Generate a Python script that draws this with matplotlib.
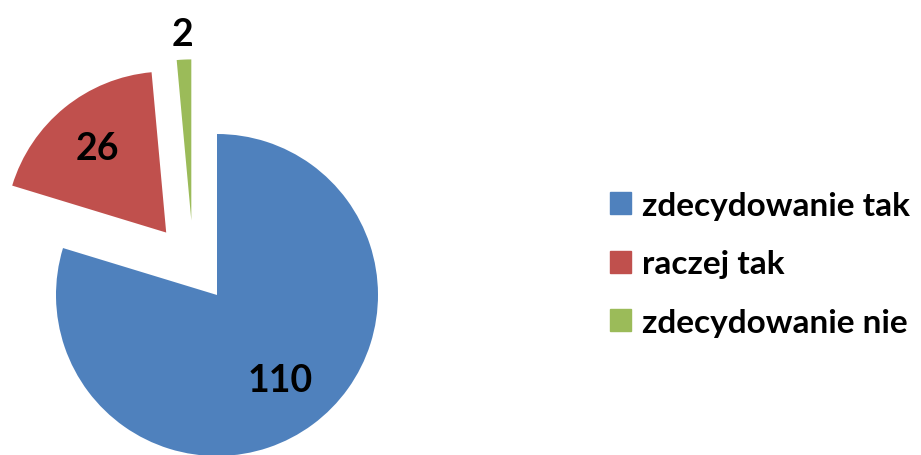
import numpy as np
import matplotlib.pyplot as plt

labels = ["zdecydowanie tak", "raczej tak", "zdecydowanie nie"]
values = [110, 26, 2]
colors = ["#4F81BD", "#C0504D", "#9BBB59"]

explode = [0, 0.5, 0.49]
label_dist = [0.66, 0.68, 1.16]

plt.rcParams["font.family"] = ["Lato", "DejaVu Sans"]

fig = plt.figure(figsize=(9.21, 4.56), dpi=100)
ax = fig.add_axes([0, 0, 1, 1])

wedges, _ = ax.pie(values, colors=colors, startangle=90, counterclock=False,
                   explode=explode, radius=1)

# Excel pushed the tiny green slice out more to the left than its mid-angle
green_dir = np.deg2rad(109)
wedges[2].set_center((explode[2] * np.cos(green_dir), explode[2] * np.sin(green_dir)))

for w, v, d in zip(wedges, values, label_dist):
    mid = np.deg2rad((w.theta1 + w.theta2) / 2)
    cx, cy = w.center
    ax.text(cx + d * np.cos(mid), cy + d * np.sin(mid), str(v),
            ha="center", va="center", fontsize=27, fontweight="bold")

ax.set_xlim(-217 / 161, (921 - 217) / 161)
ax.set_ylim(-160 / 161, 296 / 161)
ax.set_aspect("equal")
ax.axis("off")

handles = [plt.Rectangle((0, 0), 1, 1, color=c) for c in colors]
fig.legend(handles, labels, loc="center left", bbox_to_anchor=(0.662, 0.419),
           frameon=False, prop={"weight": "bold", "size": 24},
           handlelength=0.64, handleheight=0.64, handletextpad=0.33,
           labelspacing=0.88, borderpad=0, borderaxespad=0)

fig.savefig("out.png", dpi=100)
